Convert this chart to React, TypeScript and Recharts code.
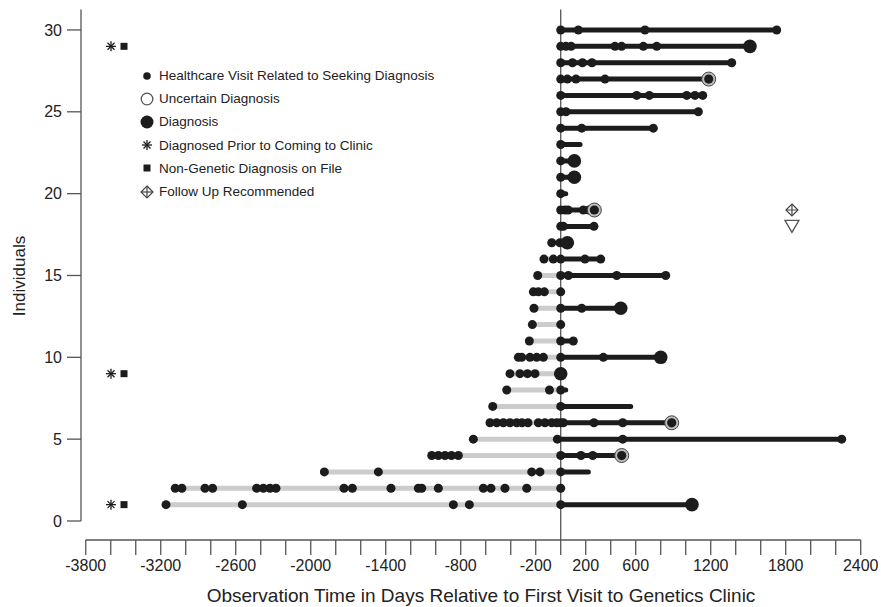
import React from "react";
import {
  ComposedChart,
  XAxis,
  YAxis,
  Line,
  Scatter,
  ReferenceLine,
} from "recharts";

// x ticks every 200 days, only some of them are labelled
const xTicks = [
  -3800, -3600, -3400, -3200, -3000, -2800, -2600, -2400, -2200, -2000, -1800,
  -1600, -1400, -1200, -1000, -800, -600, -400, -200, 0, 200, 400, 600, 800,
  1000, 1200, 1400, 1600, 1800, 2000, 2200, 2400,
];
const xLabels = [
  -3800, -3200, -2600, -2000, -1400, -800, -200, 200, 600, 1200, 1800, 2400,
];
const yTicks = [0, 5, 10, 15, 20, 25, 30];

// healthcare visits (days relative to first genetics visit), individual 1 -> 30
const visits: number[][] = [
  [-3158, -2547, -859, -731, 0],
  [
    -3084, -3031, -2846, -2785, -2433, -2379, -2326, -2278, -1734, -1667,
    -1358, -1139, -1112, -979, -619, -558, -446, -272, 0,
  ],
  [-1891, -1459, -232, -166, 0],
  [-1032, -979, -926, -874, -819, 0, 162, 256],
  [-699, -27, 496, 2248],
  [
    -566, -512, -459, -406, -352, -310, -262, -179, -126, -72, -32, 0, 21, 266,
    496,
  ],
  [-544, 0],
  [-432, -90, 0],
  [-406, -326, -266, -206],
  [-339, -312, -246, -192, -139, 0, 341],
  [-251, 0, 101],
  [-227, 0],
  [-214, 0, 168],
  [-219, -179, -131, 0],
  [-184, 0, 61, 448, 840],
  [-134, -59, 0, 194, 320],
  [-72, -6],
  [0, 21, 266],
  [0, 34, 59, 181, 226, 250],
  [0],
  [0],
  [0],
  [0],
  [0, 168, 741],
  [0, 42, 1101],
  [0, 608, 709, 1008, 1074, 1136],
  [0, 53, 122, 354],
  [0, 94, 174, 250, 1368],
  [0, 42, 83, 434, 487, 661, 768],
  [0, 141, 674, 1728],
];

const diagnoses = [
  { id: 1, day: 1050 },
  { id: 9, day: 0 },
  { id: 10, day: 800 },
  { id: 13, day: 480 },
  { id: 17, day: 53 },
  { id: 21, day: 109 },
  { id: 22, day: 109 },
  { id: 29, day: 1514 },
];
const uncertain = [
  { id: 4, day: 488 },
  { id: 6, day: 888 },
  { id: 19, day: 269 },
  { id: 27, day: 1184 },
];
// follow-up bar continuing past the last recorded visit
const barEnds = [
  { id: 3, day: 221 },
  { id: 7, day: 560 },
  { id: 8, day: 40 },
  { id: 20, day: 40 },
  { id: 23, day: 155 },
];
const priorDiagnosed = [1, 9, 29];
const nonGenetic = [1, 9, 29];
const followUp = [{ id: 19, day: 1850 }];
const openTriangle = [{ id: 18, day: 1850 }];

const X_DOMAIN: [number, number] = [-3838, 2400];
const Y_DOMAIN: [number, number] = [-1.161, 31.25];
const ASTERISK_DAY = -3598;
const SQUARE_DAY = -3494;

const INK = "#1c1c1c";
const AXIS = "#555";

const visitPts = visits.flatMap((days, i) =>
  days.map((day) => ({ day, row: i + 1 }))
);

const greyBars = visits.flatMap((days, i) => {
  const lo = Math.min(...days);
  return lo < 0
    ? [
        { day: lo, row: i + 1 },
        { day: 0, row: i + 1 },
        { day: 0, row: null },
      ]
    : [];
});

const blackBars = visits.flatMap((days, i) => {
  const id = i + 1;
  const ends = [
    ...days,
    ...diagnoses.filter((d) => d.id === id).map((d) => d.day),
    ...uncertain.filter((d) => d.id === id).map((d) => d.day),
    ...barEnds.filter((d) => d.id === id).map((d) => d.day),
  ];
  const hi = Math.max(...ends);
  return hi > 0
    ? [
        { day: 0, row: id },
        { day: hi, row: id },
        { day: hi, row: null },
      ]
    : [];
});

const toPts = (list: { id: number; day: number }[]) =>
  list.map((d) => ({ day: d.day, row: d.id }));

const Asterisk = ({ cx, cy, r = 5 }: any) => (
  <g stroke={INK} strokeWidth={1.3}>
    <line x1={cx - r} y1={cy} x2={cx + r} y2={cy} />
    <line x1={cx} y1={cy - r} x2={cx} y2={cy + r} />
    <line x1={cx - r * 0.7} y1={cy - r * 0.7} x2={cx + r * 0.7} y2={cy + r * 0.7} />
    <line x1={cx - r * 0.7} y1={cy + r * 0.7} x2={cx + r * 0.7} y2={cy - r * 0.7} />
  </g>
);

const Square = ({ cx, cy, s = 7 }: any) => (
  <rect x={cx - s / 2} y={cy - s / 2} width={s} height={s} fill={INK} />
);

const FollowMark = ({ cx, cy, r = 6 }: any) => (
  <g stroke="#444" strokeWidth={1.2} fill="none">
    <path d={`M${cx},${cy - r}L${cx + r},${cy}L${cx},${cy + r}L${cx - r},${cy}Z`} />
    <line x1={cx - r} y1={cy} x2={cx + r} y2={cy} />
    <line x1={cx} y1={cy - r} x2={cx} y2={cy + r} />
  </g>
);

const legendItems = [
  { label: "Healthcare Visit Related to Seeking Diagnosis", icon: "visit" },
  { label: "Uncertain Diagnosis", icon: "uncertain" },
  { label: "Diagnosis", icon: "diagnosis" },
  { label: "Diagnosed Prior to Coming to Clinic", icon: "prior" },
  { label: "Non-Genetic Diagnosis on File", icon: "nongen" },
  { label: "Follow Up Recommended", icon: "follow" },
];

function LegendIcon({ kind }: { kind: string }) {
  const c = 8;
  return (
    <svg width={16} height={16} style={{ display: "block" }}>
      {kind === "visit" && <circle cx={c} cy={c} r={3.8} fill={INK} />}
      {kind === "uncertain" && (
        <circle cx={c} cy={c} r={5.8} fill="#fff" stroke="#555" strokeWidth={1.3} />
      )}
      {kind === "diagnosis" && <circle cx={c} cy={c} r={6.5} fill={INK} />}
      {kind === "prior" && <Asterisk cx={c} cy={c} r={5} />}
      {kind === "nongen" && <Square cx={c} cy={c} s={7} />}
      {kind === "follow" && <FollowMark cx={c} cy={c} r={6} />}
    </svg>
  );
}

export default function App() {
  return (
    <div
      style={{
        position: "absolute",
        left: 0,
        top: 0,
        width: 881,
        height: 607,
        background: "#fff",
        fontFamily: "'Liberation Sans', Arial, sans-serif",
      }}
    >
      <ComposedChart
        width={881}
        height={607}
        margin={{ top: 9.5, right: 20.3, bottom: 0, left: 21 }}
      >
        <XAxis
          type="number"
          dataKey="day"
          domain={X_DOMAIN}
          allowDataOverflow
          ticks={xTicks}
          interval={0}
          tickFormatter={(v: number) => (xLabels.includes(v) ? String(v) : "")}
          height={67}
          axisLine={false}
          tickSize={15}
          tickMargin={5}
          tickLine={{ stroke: AXIS, strokeWidth: 1.3 }}
          tick={{ fontSize: 16, fill: "#222" }}
          label={{
            content: () => (
              <text
                x={481}
                y={602}
                textAnchor="middle"
                fontSize={19}
                fill="#222"
              >
                Observation Time in Days Relative to First Visit to Genetics Clinic
              </text>
            ),
          }}
        />
        <YAxis
          type="number"
          dataKey="row"
          domain={Y_DOMAIN}
          allowDataOverflow
          ticks={yTicks}
          interval={0}
          width={60}
          axisLine={false}
          tickSize={14}
          tickMargin={5}
          tickLine={{ stroke: AXIS, strokeWidth: 1.3 }}
          tick={{ fontSize: 16, fill: "#222" }}
          label={{
            content: () => (
              <text
                x={25}
                y={276}
                textAnchor="middle"
                fontSize={17}
                fill="#222"
                transform="rotate(-90 25 276)"
              >
                Individuals
              </text>
            ),
          }}
        />

        {/* detached axis lines */}
        <ReferenceLine
          segment={[
            { x: xTicks[0], y: Y_DOMAIN[0] },
            { x: xTicks[xTicks.length - 1], y: Y_DOMAIN[0] },
          ]}
          stroke={AXIS}
          strokeWidth={1.3}
          ifOverflow="visible"
        />
        <ReferenceLine
          segment={[
            { x: X_DOMAIN[0], y: 0 },
            { x: X_DOMAIN[0], y: Y_DOMAIN[1] },
          ]}
          stroke={AXIS}
          strokeWidth={1.3}
          ifOverflow="visible"
        />
        <ReferenceLine
          segment={[
            { x: 0, y: Y_DOMAIN[0] },
            { x: 0, y: Y_DOMAIN[1] },
          ]}
          stroke={AXIS}
          strokeWidth={1.3}
          ifOverflow="visible"
        />

        <Line
          data={greyBars}
          dataKey="row"
          type="linear"
          stroke="#cccccc"
          strokeWidth={5}
          dot={false}
          activeDot={false}
          connectNulls={false}
          isAnimationActive={false}
        />
        <Line
          data={blackBars}
          dataKey="row"
          type="linear"
          stroke={INK}
          strokeWidth={5}
          strokeLinecap="round"
          dot={false}
          activeDot={false}
          connectNulls={false}
          isAnimationActive={false}
        />

        <Scatter
          data={visitPts}
          isAnimationActive={false}
          shape={(p: any) => <circle cx={p.cx} cy={p.cy} r={4.5} fill={INK} />}
        />
        <Scatter
          data={toPts(diagnoses)}
          isAnimationActive={false}
          shape={(p: any) => <circle cx={p.cx} cy={p.cy} r={6.8} fill={INK} />}
        />
        <Scatter
          data={toPts(uncertain)}
          isAnimationActive={false}
          shape={(p: any) => (
            <g>
              <circle cx={p.cx} cy={p.cy} r={7} fill="#bdbdbd" stroke="#444" strokeWidth={1} />
              <circle cx={p.cx} cy={p.cy} r={4.6} fill={INK} />
            </g>
          )}
        />
        <Scatter
          data={priorDiagnosed.map((id) => ({ day: ASTERISK_DAY, row: id }))}
          isAnimationActive={false}
          shape={(p: any) => <Asterisk cx={p.cx} cy={p.cy} r={5} />}
        />
        <Scatter
          data={nonGenetic.map((id) => ({ day: SQUARE_DAY, row: id }))}
          isAnimationActive={false}
          shape={(p: any) => <Square cx={p.cx} cy={p.cy} s={7} />}
        />
        <Scatter
          data={toPts(followUp)}
          isAnimationActive={false}
          shape={(p: any) => <FollowMark cx={p.cx} cy={p.cy} r={6} />}
        />
        <Scatter
          data={toPts(openTriangle)}
          isAnimationActive={false}
          shape={(p: any) => (
            <path
              d={`M${p.cx - 7},${p.cy - 6}L${p.cx + 7},${p.cy - 6}L${p.cx},${p.cy + 6}Z`}
              fill="#fff"
              stroke="#555"
              strokeWidth={1.3}
            />
          )}
        />
      </ComposedChart>

      <div
        style={{
          position: "absolute",
          left: 139,
          top: 64,
          fontSize: 13.5,
          color: "#222",
          lineHeight: "23.2px",
        }}
      >
        {legendItems.map((it) => (
          <div
            key={it.label}
            style={{ display: "flex", alignItems: "center", height: 23.2 }}
          >
            <LegendIcon kind={it.icon} />
            <span style={{ marginLeft: 4, whiteSpace: "nowrap" }}>{it.label}</span>
          </div>
        ))}
      </div>
    </div>
  );
}
